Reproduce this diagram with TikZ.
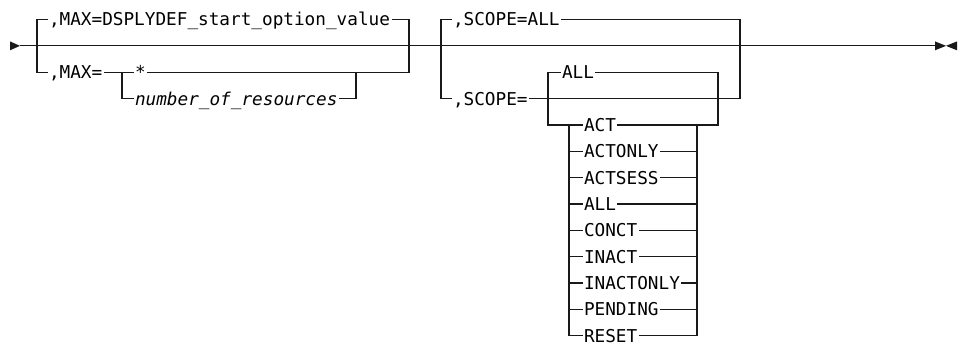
\documentclass[tikz,border=0pt]{standalone}
\usepackage{fontspec}
\newfontfamily\rrfont{DejaVu Sans Mono}
\tikzset{
  rail/.style={line width=1.3pt, draw=black!90},
  lbl/.style={font=\rrfont\fontsize{17.7}{20}\selectfont, inner xsep=1.5pt, inner ysep=0pt,
    text height=12.9pt, text depth=0pt, anchor=west, outer sep=0pt},
  ilbl/.style={lbl, font=\rrfont\itshape\fontsize{17.7}{20}\selectfont},
  tip/.style={fill=black!90, draw=none}
}
\begin{document}
\begin{tikzpicture}[x=1pt,y=-1pt]
\useasboundingbox (0,0) rectangle (963,345);
% row heights
\def\rA{19.5}\def\rB{45.85}\def\rC{72.2}\def\rD{98.55}\def\rE{124.9}
% main line
\coordinate (start) at (20,\rB);
\coordinate (end) at (935,\rB);
\fill[tip] (10,41.4) -- (start) -- (10,50.3) -- cycle;
\draw[rail] (start) -- (end);
\fill[tip] (935,41.4) -- (946,\rB) -- (935,50.3) -- cycle;
\fill[tip] (957,41.4) -- (946,\rB) -- (957,50.3) -- cycle;
% group 1
\node[lbl] (max1) at (47.5,\rA) {,MAX=DSPLYDEF\_start\_option\_value};
\node[lbl] (max2) at (47.5,\rC) {,MAX=};
\node[lbl] (star) at (133.5,\rC) {*};
\node[ilbl] (nr) at (133.5,\rD) {number\_of\_resources};
\coordinate (g1l) at (37,\rB);
\coordinate (g1r) at (409,\rB);
\draw[rail] (max1.west) -| (g1l) |- (max2.west);
\draw[rail] (max1.east) -| (g1r) |- (star.east);
\draw[rail] (max2.east) -- (star.west);
\coordinate (nrl) at (122,\rC);
\coordinate (nrr) at (356,\rC);
\draw[rail] (nrl) |- (nr.west);
\draw[rail] (nr.east) -| (nrr);
% group 2
\node[lbl] (sc1) at (451.5,\rA) {,SCOPE=ALL};
\node[lbl] (sc2) at (451.5,\rD) {,SCOPE=};
\coordinate (g2l) at (441,\rB);
\coordinate (g2r) at (740,\rB);
\draw[rail] (sc1.west) -| (g2l) |- (sc2.west);
\draw[rail] (sc1.east) -| (g2r) |- (sc2.east);
% inner group
\node[lbl] (all1) at (560.5,\rC) {ALL};
\coordinate (il) at (548,\rC);
\coordinate (ir) at (718,\rC);
\coordinate (sl) at (569,\rE);
\coordinate (sr) at (697,\rE);
\draw[rail] (all1.west) -- (il) |- (sl);
\draw[rail] (all1.east) -- (ir) |- (sr);
% stack
\foreach \t [count=\i] in {ACT,ACTONLY,ACTSESS,ALL,CONCT,INACT,INACTONLY,PENDING,RESET}{
  \pgfmathsetmacro{\yy}{\rE+26.35*(\i-1)}
  \node[lbl] (s\i) at (582.5,\yy) {\t};
  \draw[rail] (s\i.west -| sl) -- (s\i.west);
  \draw[rail] (s\i.east) -- (s\i.east -| sr);
}
\draw[rail] (sl) -- (s9.west -| sl);
\draw[rail] (sr) -- (s9.east -| sr);
\end{tikzpicture}
\end{document}
